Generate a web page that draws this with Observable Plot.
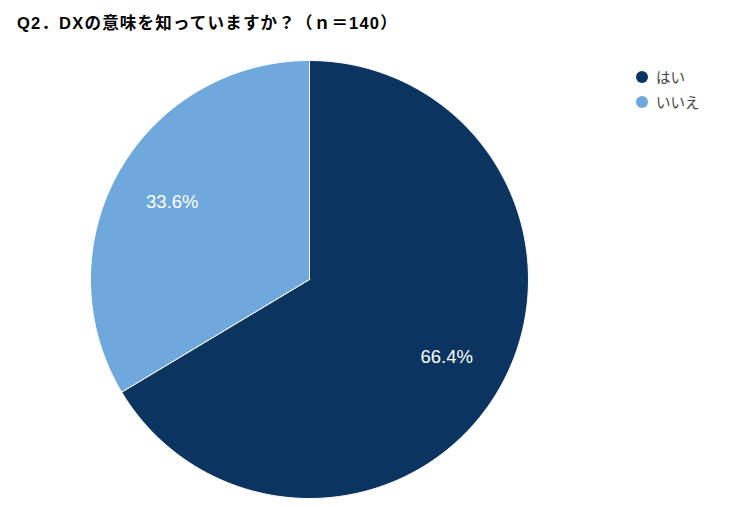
<!DOCTYPE html>
<html>
<head>
<meta charset="utf-8">
<script src="https://cdn.jsdelivr.net/npm/d3@7"></script>
<script src="https://cdn.jsdelivr.net/npm/@observablehq/plot@0.6"></script>
<style>
  html, body { margin: 0; padding: 0; background: #fff; }
  #wrap { position: relative; width: 737px; height: 507px; overflow: hidden; font-family: "Liberation Sans", Arial, "Noto Sans CJK JP", sans-serif; }
  #title { position: absolute; left: 17px; top: 10px; font-size: 16.5px; letter-spacing: 1.2px; font-weight: bold; color: #000; white-space: nowrap; }
  #legend { position: absolute; left: 636px; top: 64px; font-size: 14.5px; color: #444; }
  .item { display: flex; align-items: center; height: 25px; }
  .sw { width: 12px; height: 12px; border-radius: 50%; margin-right: 8px; }
  #chart { position: absolute; left: 0; top: 0; }
</style>
</head>
<body>
<div id="wrap">
  <div id="chart"></div>
  <div id="title">Q2．DXの意味を知っていますか？（ｎ＝140）</div>
  <div id="legend"></div>
</div>
<script>
const categories = ["はい", "いいえ"];
const values = [66.4, 33.6];
const labels = ["66.4%", "33.6%"];
const colors = ["#0b3560", "#6fa8dc"];

// Build slice polygons in unit-circle data space (clockwise from 12 o'clock)
const total = d3.sum(values);
const slices = [];
const labelRows = [];
let start = 0;
values.forEach((v, i) => {
  const a0 = start / total * 2 * Math.PI;
  const a1 = (start + v) / total * 2 * Math.PI;
  const n = 200;
  slices.push({cat: categories[i], x: 0, y: 0, k: -1});
  for (let j = 0; j <= n; j++) {
    const a = a0 + (a1 - a0) * j / n;
    slices.push({cat: categories[i], x: Math.sin(a), y: Math.cos(a), k: j});
  }
  slices.push({cat: categories[i], x: 0, y: 0, k: n + 1});
  const am = (a0 + a1) / 2;
  labelRows.push({cat: categories[i], label: labels[i], x: 0.72 * Math.sin(am), y: 0.72 * Math.cos(am)});
  start += v;
});

const plot = Plot.plot({
  width: 737,
  height: 507,
  marginLeft: 90,
  marginRight: 209,
  marginTop: 60,
  marginBottom: 9,
  x: {domain: [-1, 1], axis: null},
  y: {domain: [-1, 1], axis: null},
  color: {domain: categories, range: colors},
  style: {background: "transparent", overflow: "visible"},
  marks: [
    Plot.line(slices, {x: "x", y: "y", z: "cat", fill: "cat", stroke: "white", strokeWidth: 1, curve: "linear-closed"}),
    Plot.text(labelRows, {x: "x", y: "y", text: "label", fill: "white", fontSize: 18.5, fontFamily: "Liberation Sans, Arial, sans-serif"})
  ]
});
document.getElementById("chart").appendChild(plot);

const legend = document.getElementById("legend");
categories.forEach((c, i) => {
  const row = document.createElement("div");
  row.className = "item";
  const sw = document.createElement("span");
  sw.className = "sw";
  sw.style.background = colors[i];
  const t = document.createElement("span");
  t.textContent = c;
  row.appendChild(sw);
  row.appendChild(t);
  legend.appendChild(row);
});
</script>
</body>
</html>
